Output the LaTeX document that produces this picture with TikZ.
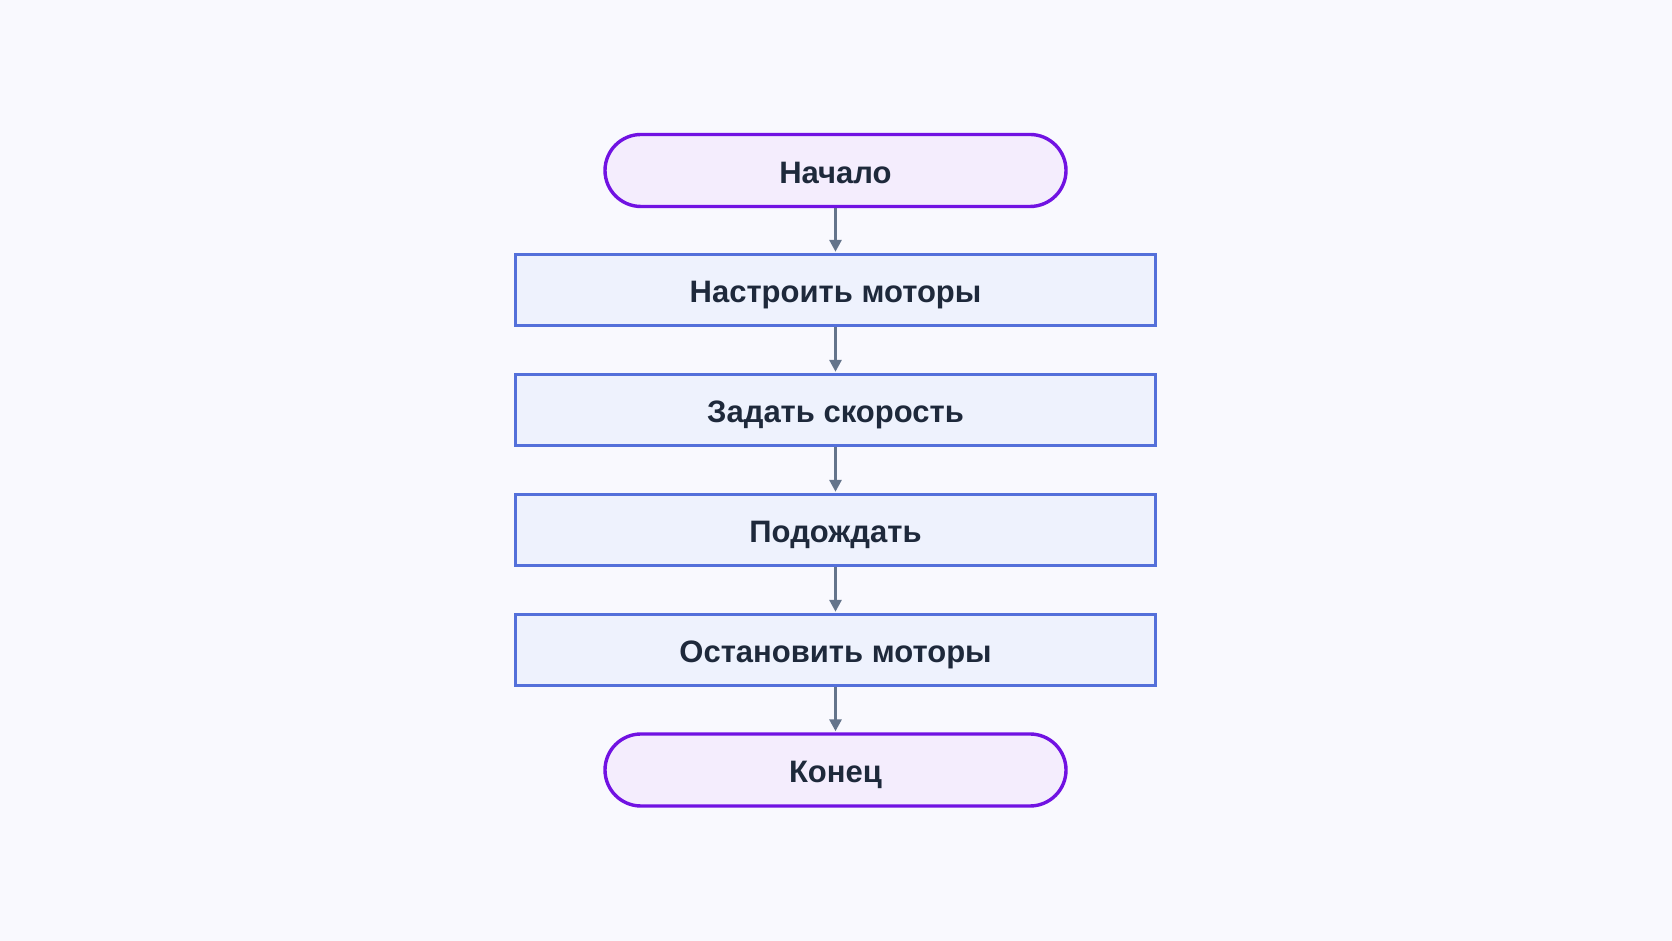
\documentclass[tikz,border=0pt]{standalone}
\usepackage{fontspec}
\setmainfont{Liberation Sans}
\usetikzlibrary{arrows.meta}
\definecolor{bg}{HTML}{F9F9FE}
\definecolor{termfill}{HTML}{F4EDFD}
\definecolor{termdraw}{HTML}{7112E2}
\definecolor{boxfill}{HTML}{EEF2FD}
\definecolor{boxdraw}{HTML}{5470DA}
\definecolor{arr}{HTML}{64748B}
\definecolor{txt}{HTML}{1E293B}
\tikzset{
  term/.style={draw=termdraw, fill=termfill, line width=3.4pt, rounded corners=36pt,
    minimum width=461pt, minimum height=72pt, inner sep=0pt,
    text height=28pt, text depth=2pt,
    font=\fontsize{31}{36}\selectfont\bfseries, text=txt},
  stepbox/.style={draw=boxdraw, fill=boxfill, line width=3.4pt,
    minimum width=640pt, minimum height=71pt, inner sep=0pt,
    text height=28pt, text depth=2pt,
    font=\fontsize{31}{36}\selectfont\bfseries, text=txt},
  conn/.style={draw=arr, line width=3pt, -{Triangle[length=12pt,width=12pt]}, shorten >=1pt}
}
\begin{document}
\begin{tikzpicture}[x=1pt,y=1pt]
\fill[bg] (0,0) rectangle (1672,941);
\useasboundingbox (0,0) rectangle (1672,941);
\node[term] (s) at (835.5,770.5) {Начало};
\node[stepbox] (a) at (835.5,651) {Настроить моторы};
\node[stepbox] (b) at (835.5,531) {Задать скорость};
\node[stepbox] (c) at (835.5,411) {Подождать};
\node[stepbox] (d) at (835.5,291) {Остановить моторы};
\node[term] (e) at (835.5,171) {Конец};
\draw[conn] (s) -- (a);
\draw[conn] (a) -- (b);
\draw[conn] (b) -- (c);
\draw[conn] (c) -- (d);
\draw[conn] (d) -- (e);
\end{tikzpicture}
\end{document}
